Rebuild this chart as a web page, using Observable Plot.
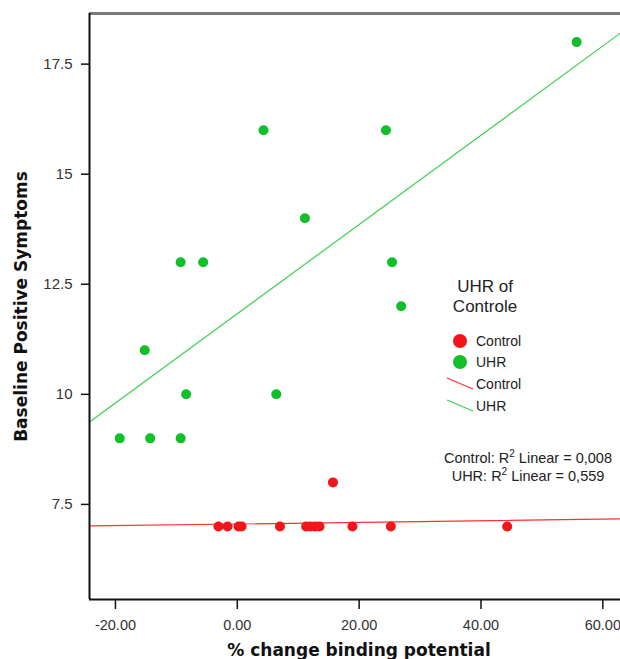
<!DOCTYPE html>
<html><head><meta charset="utf-8">
<script src="https://cdn.jsdelivr.net/npm/d3@7"></script>
<script src="https://cdn.jsdelivr.net/npm/@observablehq/plot@0.6"></script>
<style>body{margin:0;background:#fff}</style>
</head><body><div id="chart"></div>
<script>
// UHR group (% change binding potential, baseline positive symptoms)
const uhrX = [55.7, 4.3, 24.4, 11.1, -9.3, -5.6, 25.4, 26.9, -15.2, -8.4, 6.4, -19.3, -14.3, -9.3];
const uhrY = [18, 16, 16, 14, 13, 13, 13, 12, 11, 10, 10, 9, 9, 9];
// Control group
const ctrlX = [-3.1, -1.6, 0.2, 0.7, 7.0, 11.3, 12.0, 12.8, 13.5, 18.9, 25.2, 44.3, 15.7];
const ctrlY = [7, 7, 7, 7, 7, 7, 7, 7, 7, 7, 7, 7, 8];
const groups = ["Control", "UHR"];
const r2Text = ["0,008", "0,559"];
const xTicks = [-20, 0, 20, 40, 60];
const yTicks = [7.5, 10, 12.5, 15, 17.5];
const legendTitle = ["UHR of", "Controle"];
const xLabel = "% change binding potential";
const yLabel = "Baseline Positive Symptoms";

const xDomain = [-24.26, 62.9];
const yDomain = [5.34, 18.65];
const colors = {Control: "#f5141c", UHR: "#10bf2a"};
const lineColors = {Control: "#ff3030", UHR: "#3dd050"};

const points = [
  ...ctrlX.map((x, i) => ({x, y: ctrlY[i], group: "Control"})),
  ...uhrX.map((x, i) => ({x, y: uhrY[i], group: "UHR"}))
];

function fit(xs, ys) {
  const mx = d3.mean(xs), my = d3.mean(ys);
  const sxy = d3.sum(xs, (x, i) => (x - mx) * (ys[i] - my));
  const sxx = d3.sum(xs, x => (x - mx) ** 2);
  const b = sxy / sxx;
  return {a: my - b * mx, b};
}
const fits = {Control: fit(ctrlX, ctrlY), UHR: fit(uhrX, uhrY)};
const fitLines = groups.flatMap(g => xDomain.map(x => ({x, y: fits[g].a + fits[g].b * x, group: g})));

const font = "'Liberation Sans', Arial, sans-serif";

const legendMark = (index, scales, values, dims) => {
  const g = d3.create("svg:g").attr("font-family", font).attr("fill", "#222").attr("stroke", "none");
  g.selectAll("text.t").data(legendTitle).join("text")
    .attr("x", 485).attr("y", (d, i) => 286 + i * 20).attr("dy", "0.35em")
    .attr("text-anchor", "middle").attr("font-size", 17).text(d => d);
  groups.forEach((grp, i) => {
    g.append("circle").attr("cx", 460).attr("cy", 341 + i * 21).attr("r", 7)
      .attr("fill", colors[grp]).attr("stroke", "none");
    g.append("text").attr("x", 476).attr("y", 341 + i * 21).attr("dy", "0.35em")
      .attr("text-anchor", "start").attr("font-size", 14).text(grp);
    g.append("line").attr("x1", 447).attr("y1", 378 + i * 22).attr("x2", 473).attr("y2", 389 + i * 22)
      .attr("stroke", lineColors[grp]).attr("stroke-width", 1.2);
    g.append("text").attr("x", 476).attr("y", 384 + i * 22).attr("dy", "0.35em")
      .attr("text-anchor", "start").attr("font-size", 14).text(grp);
    const t = g.append("text").attr("x", 528).attr("y", 458 + i * 18).attr("dy", "0.35em")
      .attr("text-anchor", "middle").attr("font-size", 14.5);
    t.append("tspan").text(grp + ": R");
    t.append("tspan").attr("font-size", 10).attr("dy", "-0.6em").text("2");
    t.append("tspan").attr("dy", "0.42em").text(" Linear = " + r2Text[i]);
  });
  return g.node();
};

const chart = Plot.plot({
  width: 620, height: 659,
  marginLeft: 89, marginTop: 13, marginRight: 0, marginBottom: 60,
  x: {domain: xDomain},
  y: {domain: yDomain},
  style: {fontFamily: font, background: "#fff", overflow: "visible"},
  marks: [
    Plot.line(fitLines, {x: "x", y: "y", z: "group", stroke: d => lineColors[d.group], strokeWidth: 1.2, clip: true}),
    Plot.dot(points, {x: "x", y: "y", r: 5, fill: d => colors[d.group]}),
    Plot.ruleY([yDomain[1]], {stroke: "#7a7a7a", strokeWidth: 3}),
    Plot.ruleX([xDomain[0]], {stroke: "#111", strokeWidth: 2}),
    Plot.ruleY([yDomain[0]], {stroke: "#111", strokeWidth: 2}),
    Plot.axisX(xTicks, {tickSize: 10, tickPadding: 10, tickFormat: d => d.toFixed(2), fontSize: 14.5, stroke: "#111", fill: "#333", strokeWidth: 1.5, label: null}),
    Plot.axisY(yTicks, {tickSize: 8, tickPadding: 9, tickFormat: d => String(d), fontSize: 15, stroke: "#111", fill: "#333", strokeWidth: 1.5, label: null}),
    Plot.text([xLabel], {frameAnchor: "bottom", dy: 51, dx: 4, fontSize: 17, fontWeight: "bold", fontFamily: "'DejaVu Sans', Verdana, sans-serif", fill: "#111", lineAnchor: "middle", textAnchor: "middle"}),
    Plot.text([yLabel], {frameAnchor: "left", rotate: -90, dx: -68, fontSize: 17, fontWeight: "bold", fontFamily: "'DejaVu Sans', Verdana, sans-serif", fill: "#111", lineAnchor: "middle", textAnchor: "middle"}),
    legendMark
  ]
});
document.getElementById("chart").append(chart);
</script>
</body></html>
